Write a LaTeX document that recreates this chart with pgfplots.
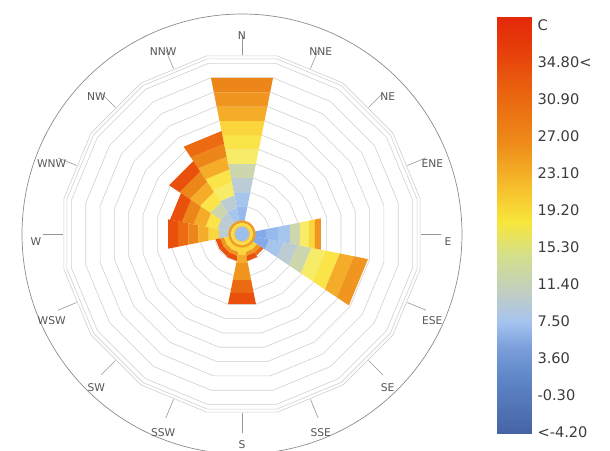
\documentclass[border=0pt]{standalone}
\usepackage{pgfplots}
\pgfplotsset{compat=1.18}
\usepgfplotslibrary{polar}
\usepackage{fontspec}
\setmainfont{DejaVu Sans}

\definecolor{ringc}{RGB}{208,208,208}
\definecolor{tickc}{RGB}{150,150,150}
\definecolor{circ}{RGB}{140,140,140}
\definecolor{txt}{RGB}{85,85,85}
\definecolor{ltxt}{RGB}{60,60,60}
\definecolor{bl}{RGB}{132,170,234}
\definecolor{lbA}{RGB}{150,186,238}
\definecolor{lbB}{RGB}{166,197,236}
\definecolor{gb}{RGB}{188,204,212}
\definecolor{gg}{RGB}{206,214,174}
\definecolor{py}{RGB}{246,236,104}
\definecolor{yA}{RGB}{250,228,72}
\definecolor{yB}{RGB}{250,214,60}
\definecolor{oy}{RGB}{245,172,40}
\definecolor{oA}{RGB}{240,150,32}
\definecolor{oB}{RGB}{237,134,25}
\definecolor{ro}{RGB}{235,106,18}
\definecolor{rr}{RGB}{232,80,12}
\definecolor{hubA}{RGB}{240,158,40}
\definecolor{hubB}{RGB}{250,224,78}
\definecolor{hubC}{RGB}{246,196,80}
\definecolor{hubD}{RGB}{158,190,236}

% one coloured band of a wind-rose bar: angle1, angle2, r1, r2, colour
\newcommand{\band}[5]{\addplot[fill=#5,draw=none] coordinates {(#1,#3) (#2,#3) (#2,#4) (#1,#4)} -- cycle;}
% 16-sided frequency ring
\newcommand{\ring}[1]{\addplot[draw=ringc,line width=0.6bp] coordinates {(11.25,#1) (33.75,#1) (56.25,#1) (78.75,#1) (101.25,#1) (123.75,#1) (146.25,#1) (168.75,#1) (191.25,#1) (213.75,#1) (236.25,#1) (258.75,#1) (281.25,#1) (303.75,#1) (326.25,#1) (348.75,#1) (371.25,#1)};}
% hub disk
\newcommand{\disk}[2]{\addplot[fill=#2,draw=none] coordinates {(0,#1) (15,#1) (30,#1) (45,#1) (60,#1) (75,#1) (90,#1) (105,#1) (120,#1) (135,#1) (150,#1) (165,#1) (180,#1) (195,#1) (210,#1) (225,#1) (240,#1) (255,#1) (270,#1) (285,#1) (300,#1) (315,#1) (330,#1) (345,#1)} -- cycle;}

\begin{document}
\begin{tikzpicture}
\useasboundingbox (-242bp,-217bp) rectangle (368bp,234bp);
\begin{polaraxis}[
  at={(0,0)}, anchor=center,
  scale only axis, width=440bp, height=440bp,
  xmin=0, xmax=360, ymin=0, ymax=220,
  xtick=\empty, ytick=\empty,
  separate axis lines,
  x axis line style={draw=circ, line width=0.7bp},
  y axis line style={draw=none},
  clip=false,
]
% rings
\ring{27.9}\ring{42.5}\ring{57.1}\ring{71.7}\ring{86.3}\ring{100.9}\ring{115.5}
\ring{130.1}\ring{144.7}\ring{159.3}\ring{173.9}\ring{178.5}\ring{181.6}
% direction ticks
\pgfplotsinvokeforeach{0,22.5,45,67.5,90,112.5,135,157.5,180,202.5,225,247.5,270,292.5,315,337.5}{
  \addplot[draw=tickc,line width=0.6bp] coordinates {(#1,179) (#1,199)};
}
% N
\band{78.75}{101.25}{13.3}{27.9}{lbA}
\band{78.75}{101.25}{27.9}{42.5}{lbB}
\band{78.75}{101.25}{42.5}{57.1}{gb}
\band{78.75}{101.25}{57.1}{71.6}{gg}
\band{78.75}{101.25}{71.6}{86.2}{py}
\band{78.75}{101.25}{86.2}{100.8}{yA}
\band{78.75}{101.25}{100.8}{115.4}{yB}
\band{78.75}{101.25}{115.4}{130.0}{oy}
\band{78.75}{101.25}{130.0}{144.5}{oA}
\band{78.75}{101.25}{144.5}{159.1}{oB}
% NNW
\band{101.25}{123.75}{13.3}{26.4}{lbB}
\band{101.25}{123.75}{26.4}{39.5}{gb}
\band{101.25}{123.75}{39.5}{52.6}{py}
\band{101.25}{123.75}{52.6}{65.8}{yA}
\band{101.25}{123.75}{65.8}{78.9}{oy}
\band{101.25}{123.75}{78.9}{92.0}{oB}
\band{101.25}{123.75}{92.0}{105.0}{ro}
% NW
\band{123.75}{146.25}{13.3}{25.7}{gb}
\band{123.75}{146.25}{25.7}{38.1}{gg}
\band{123.75}{146.25}{38.1}{50.5}{yA}
\band{123.75}{146.25}{50.5}{62.9}{oy}
\band{123.75}{146.25}{62.9}{75.3}{oB}
\band{123.75}{146.25}{75.3}{87.7}{rr}
% WNW
\band{146.25}{168.75}{13.3}{25.3}{gb}
\band{146.25}{168.75}{25.3}{37.3}{yA}
\band{146.25}{168.75}{37.3}{49.4}{oy}
\band{146.25}{168.75}{49.4}{61.4}{oB}
\band{146.25}{168.75}{61.4}{73.4}{rr}
% W
\band{168.75}{191.25}{13.3}{23.6}{gb}
\band{168.75}{191.25}{23.6}{34.0}{yB}
\band{168.75}{191.25}{34.0}{44.4}{oy}
\band{168.75}{191.25}{44.4}{54.7}{oB}
\band{168.75}{191.25}{54.7}{65.1}{ro}
\band{168.75}{191.25}{65.1}{75.4}{rr}
% WSW
\band{191.25}{213.75}{13.3}{18.4}{yB}
\band{191.25}{213.75}{18.4}{22.4}{oA}
\band{191.25}{213.75}{22.4}{27.0}{rr}
% SW
\band{213.75}{236.25}{13.3}{18.4}{yB}
\band{213.75}{236.25}{18.4}{22.4}{oA}
\band{213.75}{236.25}{22.4}{27.0}{rr}
% SSW
\band{236.25}{258.75}{13.3}{18.4}{yB}
\band{236.25}{258.75}{18.4}{22.4}{oA}
\band{236.25}{258.75}{22.4}{27.5}{rr}
% S
\band{258.75}{281.25}{13.3}{21.4}{yB}
\band{258.75}{281.25}{21.4}{29.6}{oy}
\band{258.75}{281.25}{29.6}{46.9}{oA}
\band{258.75}{281.25}{46.9}{60.2}{ro}
\band{258.75}{281.25}{60.2}{71.4}{rr}
% SSE
\band{281.25}{303.75}{13.3}{18.4}{yB}
\band{281.25}{303.75}{18.4}{22.4}{oA}
\band{281.25}{303.75}{22.4}{27.5}{rr}
% SE
\band{303.75}{326.25}{13.3}{18.4}{yB}
\band{303.75}{326.25}{18.4}{22.4}{oA}
\band{303.75}{326.25}{22.4}{26.0}{ro}
% ESE
\band{326.25}{348.75}{13.3}{27.7}{bl}
\band{326.25}{348.75}{27.7}{42.1}{lbB}
\band{326.25}{348.75}{42.1}{56.5}{gb}
\band{326.25}{348.75}{56.5}{70.9}{gg}
\band{326.25}{348.75}{70.9}{85.3}{py}
\band{326.25}{348.75}{85.3}{99.7}{yA}
\band{326.25}{348.75}{99.7}{114.1}{oy}
\band{326.25}{348.75}{114.1}{128.5}{oA}
% E
\band{-11.25}{11.25}{13.3}{24.5}{bl}
\band{-11.25}{11.25}{24.5}{36.7}{lbA}
\band{-11.25}{11.25}{36.7}{48.9}{lbB}
\band{-11.25}{11.25}{48.9}{59.1}{gg}
\band{-11.25}{11.25}{59.1}{68.3}{py}
\band{-11.25}{11.25}{68.3}{74.4}{yB}
\band{-11.25}{11.25}{74.4}{80.5}{oA}
% hub
\disk{13.6}{hubA}
\disk{11.0}{hubB}
\disk{8.4}{hubC}
\disk{7.0}{hubD}
% direction labels
\tikzset{dirlab/.style={font=\fontsize{10.7bp}{12bp}\selectfont, text=txt, anchor=center, yshift=-8bp}}
\node[dirlab] at (axis cs:90,206) {N};
\node[dirlab] at (axis cs:67.5,206) {NNE};
\node[dirlab] at (axis cs:45,206) {NE};
\node[dirlab] at (axis cs:22.5,206) {ENE};
\node[dirlab] at (axis cs:0,206) {E};
\node[dirlab] at (axis cs:337.5,206) {ESE};
\node[dirlab] at (axis cs:315,206) {SE};
\node[dirlab] at (axis cs:292.5,206) {SSE};
\node[dirlab, yshift=3bp] at (axis cs:270,206) {S};
\node[dirlab] at (axis cs:247.5,206) {SSW};
\node[dirlab] at (axis cs:225,206) {SW};
\node[dirlab] at (axis cs:202.5,206) {WSW};
\node[dirlab] at (axis cs:180,206) {W};
\node[dirlab] at (axis cs:157.5,206) {WNW};
\node[dirlab] at (axis cs:135,206) {NW};
\node[dirlab] at (axis cs:112.5,206) {NNW};
\end{polaraxis}

\begin{axis}[
  at={(255bp,-199bp)}, anchor=south west,
  scale only axis, width=34bp, height=416bp,
  xmin=0, xmax=1, ymin=0, ymax=11.24,
  hide axis, clip=false,
  colormap={lbmap}{rgb255(0pt)=(70,100,165); rgb255(15pt)=(95,135,200); rgb255(23pt)=(122,158,218); rgb255(30pt)=(165,195,240); rgb255(37pt)=(190,205,200); rgb255(48pt)=(212,223,138); rgb255(57pt)=(248,230,60); rgb255(69pt)=(245,180,40); rgb255(78pt)=(238,140,25); rgb255(92pt)=(234,100,15); rgb255(105pt)=(230,58,10); rgb255(112.4pt)=(228,40,10)},
  point meta min=0, point meta max=11.24,
]
\addplot[surf, shader=interp, mesh/cols=2, point meta=y] coordinates {
(0,0) (1,0)
(0,1.5) (1,1.5)
(0,2.3) (1,2.3)
(0,3.0) (1,3.0)
(0,3.7) (1,3.7)
(0,4.8) (1,4.8)
(0,5.7) (1,5.7)
(0,6.9) (1,6.9)
(0,7.8) (1,7.8)
(0,9.2) (1,9.2)
(0,10.5) (1,10.5)
(0,11.24) (1,11.24)
};
\tikzset{leglab/.style={font=\fontsize{14.6bp}{16bp}\selectfont, text=ltxt, anchor=west, xshift=3bp}}
\node[leglab] at (axis cs:1,0.027) {<-4.20};
\node[leglab] at (axis cs:1,1.027) {-0.30};
\node[leglab] at (axis cs:1,2.027) {3.60};
\node[leglab] at (axis cs:1,3.027) {7.50};
\node[leglab] at (axis cs:1,4.027) {11.40};
\node[leglab] at (axis cs:1,5.027) {15.30};
\node[leglab] at (axis cs:1,6.027) {19.20};
\node[leglab] at (axis cs:1,7.027) {23.10};
\node[leglab] at (axis cs:1,8.027) {27.00};
\node[leglab] at (axis cs:1,9.027) {30.90};
\node[leglab] at (axis cs:1,10.027) {34.80<};
\node[leglab] at (axis cs:1,11.027) {C};
\end{axis}
\end{tikzpicture}
\end{document}
